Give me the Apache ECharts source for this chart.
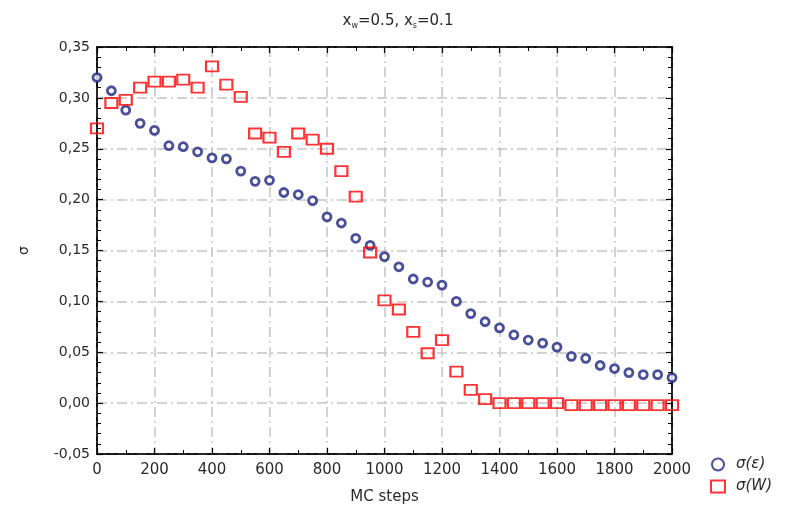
<!DOCTYPE html>
<html><head><meta charset="utf-8">
<script src="https://cdn.jsdelivr.net/npm/echarts@6/dist/echarts.min.js"></script>
<style>html,body{margin:0;padding:0;background:#fff}#c{width:788px;height:514px}</style>
</head><body><div id="c"></div>
<script>
var steps = [0,50,100,150,200,250,300,350,400,450,500,550,600,650,700,750,800,850,900,950,1000,1050,1100,1150,1200,1250,1300,1350,1400,1450,1500,1550,1600,1650,1700,1750,1800,1850,1900,1950,2000];
var sigmaEps = [0.320,0.307,0.288,0.275,0.268,0.253,0.252,0.247,0.241,0.240,0.228,0.218,0.219,0.207,0.205,0.199,0.183,0.177,0.162,0.155,0.144,0.134,0.122,0.119,0.116,0.100,0.088,0.080,0.074,0.067,0.062,0.059,0.055,0.046,0.044,0.037,0.034,0.030,0.028,0.028,0.025];
var sigmaW = [0.270,0.295,0.298,0.310,0.316,0.316,0.318,0.310,0.331,0.313,0.301,0.265,0.261,0.247,0.265,0.259,0.250,0.228,0.203,0.148,0.101,0.092,0.070,0.049,0.062,0.031,0.013,0.004,0.000,0.000,0.000,0.000,0.000,-0.002,-0.002,-0.002,-0.002,-0.002,-0.002,-0.002,-0.002];
var seriesNames = ['σ(ε)','σ(W)'];
var xTicks = {min:0, max:2000, interval:200};
var yTicks = {min:-0.05, max:0.35, interval:0.05};

function pairs(xs, ys){ return xs.map(function(x,i){return [x, ys[i]];}); }
var FONT = '"DejaVu Sans", Verdana, sans-serif';
var TXT = '#2a2a2a';
var gridLine = {show:true, lineStyle:{color:'#c4c4c4', width:1.5, type:[10,4,2,4]}};
var tickStyle = {show:true, inside:true, length:6, lineStyle:{color:'#000', width:1.2}};
var chart = echarts.init(document.getElementById('c'));
chart.setOption({
  animation:false,
  backgroundColor:'#fff',
  title:{
    text:'x{s|w}=0.5, x{s|s}=0.1',
    left:393, top:8, textAlign:'center',
    textStyle:{fontFamily:FONT, fontSize:15, fontWeight:'normal', color:TXT,
      rich:{s:{fontSize:8, verticalAlign:'bottom', padding:[9,0,0,0], fontFamily:FONT, color:TXT}}}
  },
  legend:{
    orient:'vertical', left:705, top:452, itemGap:7, itemWidth:14, itemHeight:12,
    textStyle:{fontFamily:FONT, fontSize:15, color:TXT, fontStyle:'italic', padding:[0,0,0,6]},
    data:[{name:seriesNames[0], icon:'circle'},{name:seriesNames[1], icon:'rect'}]
  },
  grid:{left:97, right:116, top:47, bottom:60, show:true, borderColor:'#000', borderWidth:1.5},
  xAxis:[{
    type:'value', min:xTicks.min, max:xTicks.max, interval:xTicks.interval,
    name:'MC steps', nameLocation:'middle', nameGap:36,
    nameTextStyle:{fontFamily:FONT, fontSize:15, color:TXT},
    axisLine:{show:true, onZero:false, lineStyle:{color:'#000', width:1.5}},
    axisTick:tickStyle,
    minorTick:{show:true, splitNumber:2, length:4, lineStyle:{color:'#000'}},
    axisLabel:{fontFamily:FONT, fontSize:15, color:TXT, margin:9,
      formatter:function(v){return String(v);}},
    splitLine:gridLine
  },{
    type:'value', position:'top', min:xTicks.min, max:xTicks.max, interval:xTicks.interval,
    axisLine:{show:true, onZero:false, lineStyle:{color:'#000', width:1.5}},
    axisTick:tickStyle,
    minorTick:{show:true, splitNumber:2, length:4, lineStyle:{color:'#000'}},
    axisLabel:{show:false}, splitLine:{show:false}
  }],
  yAxis:[{
    type:'value', min:yTicks.min, max:yTicks.max, interval:yTicks.interval,
    name:'σ', nameLocation:'middle', nameGap:66, nameRotate:90,
    nameTextStyle:{fontFamily:FONT, fontSize:14, color:TXT},
    axisLine:{show:true, onZero:false, lineStyle:{color:'#000', width:1.5}},
    axisTick:tickStyle,
    minorTick:{show:true, splitNumber:5, length:4, lineStyle:{color:'#000'}},
    axisLabel:{fontFamily:FONT, fontSize:14, color:TXT, margin:7,
      formatter:function(v){return v.toFixed(2).replace('.',',');}},
    splitLine:gridLine
  },{
    type:'value', position:'right', min:yTicks.min, max:yTicks.max, interval:yTicks.interval,
    axisLine:{show:true, onZero:false, lineStyle:{color:'#000', width:1.5}},
    axisTick:tickStyle,
    minorTick:{show:true, splitNumber:5, length:4, lineStyle:{color:'#000'}},
    axisLabel:{show:false}, splitLine:{show:false}
  }],
  series:[{
    name:seriesNames[0], type:'scatter', symbol:'circle', symbolSize:8,
    itemStyle:{color:'#fff', borderColor:'#1b2380', borderWidth:2.8},
    data:pairs(steps, sigmaEps), z:3
  },{
    name:seriesNames[1], type:'scatter', symbol:'rect', symbolSize:[12,10],
    itemStyle:{color:'rgba(255,255,255,0)', borderColor:'#ff0000', borderWidth:2},
    data:pairs(steps, sigmaW), z:4
  }]
});
</script></body></html>
